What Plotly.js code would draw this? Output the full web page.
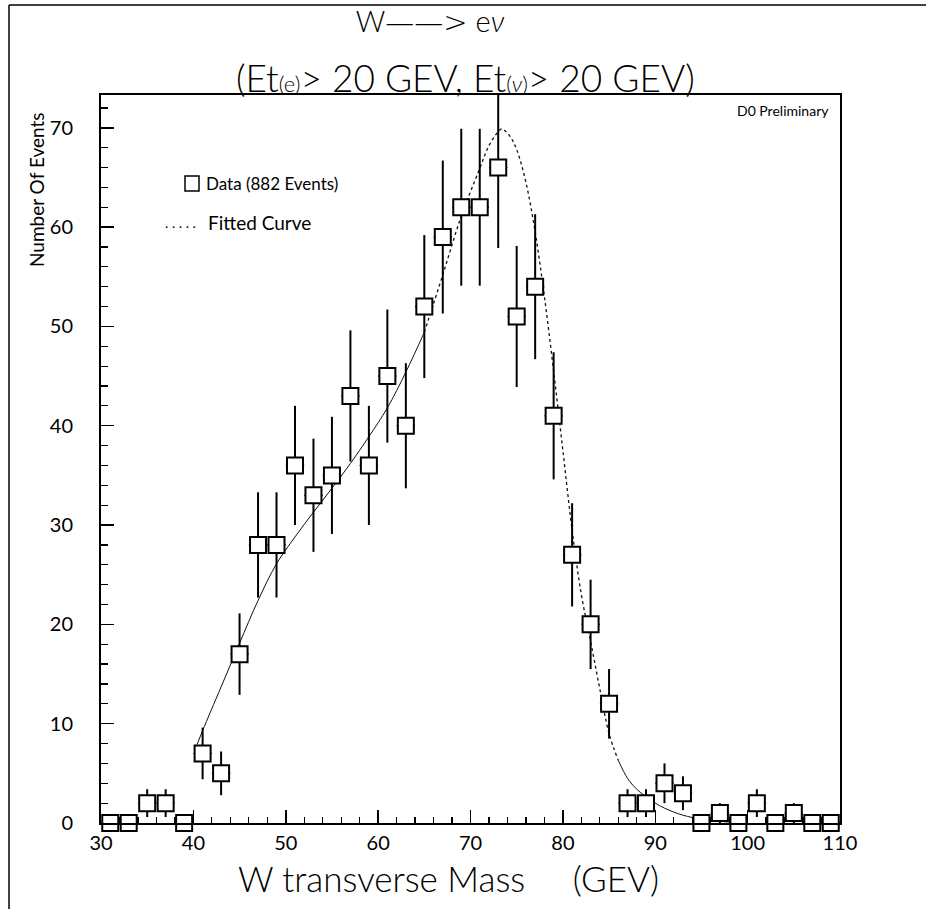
<!DOCTYPE html>
<html>
<head>
<meta charset="utf-8">
<script src="https://cdn.plot.ly/plotly-3.0.1.min.js"></script>
<style>
  html, body { margin: 0; padding: 0; background: #fff; }
  #chart { width: 926px; height: 909px; }
</style>
</head>
<body>
<div id="chart"></div>
<script>
// Bin centres (GeV) and number of events per 2 GeV bin
const binCenters = [31, 33, 35, 37, 39, 41, 43, 45, 47, 49,
                    51, 53, 55, 57, 59, 61, 63, 65, 67, 69,
                    71, 73, 75, 77, 79, 81, 83, 85, 87, 89,
                    91, 93, 95, 97, 99, 101, 103, 105, 107, 109];
const events = [0, 0, 2, 2, 0, 7, 5, 17, 28, 28,
                36, 33, 35, 43, 36, 45, 40, 52, 59, 62,
                62, 66, 51, 54, 41, 27, 20, 12, 2, 2,
                4, 3, 0, 1, 0, 2, 0, 1, 0, 0];
// Statistical error bars
const eventErrors = [0, 0, 1.4, 1.4, 0, 2.6, 2.2, 4.1, 5.3, 5.3,
                     6.0, 5.7, 5.9, 6.6, 6.0, 6.7, 6.3, 7.2, 7.7, 7.9,
                     7.9, 8.1, 7.1, 7.3, 6.4, 5.2, 4.5, 3.5, 1.4, 1.4,
                     2.0, 1.7, 0, 1.0, 0, 1.4, 0, 1.0, 0, 0];
const binHalfWidth = [1, 1, 1, 1, 1, 1, 1, 1, 1, 1,
                      1, 1, 1, 1, 1, 1, 1, 1, 1, 1,
                      1, 1, 1, 1, 1, 1, 1, 1, 1, 1,
                      1, 1, 1, 1, 1, 1, 1, 1, 1, 1];

// Fitted curve
const fitX = [40.4, 41, 43, 45, 47, 49, 51, 53, 55, 57, 59, 61, 63,
              65, 67, 69, 71, 72, 73, 73.4, 74.3, 75, 76, 77, 78, 79, 80, 81, 82, 83, 84, 85, 86,
              87, 88, 90, 92, 94, 96, 98, 100];
const fitY = [7.9, 9.3, 13.7, 18.1, 22.4, 26.1, 28.8, 31.3, 33.7, 36.2, 38.9, 41.8, 45.4,
              49.4, 55.2, 61.1, 65.9, 68.2, 69.6, 69.9, 69.1, 67.8, 64.5, 59.5, 53.0, 45.5, 37.5, 29.5, 23.0, 18.3, 13.5, 9.0, 6.3,
              4.5, 3.4, 2.0, 1.1, 0.55, 0.25, 0.1, 0.03];

// tick labels
const xTickVals = [30, 40, 50, 60, 70, 80, 90, 100, 110];
const yTickVals = [0, 10, 20, 30, 40, 50, 60, 70];

const FONT = "Lato, DejaVu Sans, sans-serif";

// split the fitted curve into solid / dotted parts as drawn
const i65 = fitX.indexOf(65), i86 = fitX.indexOf(86);
const curveSolidA = { x: fitX.slice(0, i65 + 1), y: fitY.slice(0, i65 + 1) };
const curveDot = { x: fitX.slice(i65, i86 + 1), y: fitY.slice(i65, i86 + 1) };
const curveSolidB = { x: fitX.slice(i86), y: fitY.slice(i86) };

const lineStyle = { color: '#111', width: 1, shape: 'spline' };

const traces = [
  { type: 'scatter', mode: 'lines', x: curveSolidA.x, y: curveSolidA.y,
    line: lineStyle, hoverinfo: 'skip', showlegend: false },
  { type: 'scatter', mode: 'lines', x: curveDot.x, y: curveDot.y,
    line: Object.assign({}, lineStyle, { dash: 'dot', width: 1.3 }), hoverinfo: 'skip', showlegend: false },
  { type: 'scatter', mode: 'lines', x: curveSolidB.x, y: curveSolidB.y,
    line: lineStyle, hoverinfo: 'skip', showlegend: false },
  { type: 'scatter', mode: 'markers', name: 'Data (882 Events)',
    x: binCenters, y: events, cliponaxis: false,
    error_y: { type: 'data', array: eventErrors, visible: true, color: '#000', thickness: 2, width: 0 },
    error_x: { type: 'data', array: binHalfWidth, visible: true, color: '#000', thickness: 1.2, width: 0 },
    marker: { symbol: 'square', size: 16, color: '#fff', line: { color: '#000', width: 2 } },
    showlegend: false }
];

// pixel helpers for the plot area (l=101, r=840, t=95, b=823)
const PL = 101, PR = 840, PT = 95, PB = 823;
const px = v => (v - PL) / (PR - PL);
const py = v => (PB - v) / (PB - PT);

const layout = {
  width: 926, height: 909,
  margin: { l: PL, r: 926 - PR, t: PT, b: 909 - PB, pad: 0 },
  paper_bgcolor: '#fff', plot_bgcolor: '#fff',
  font: { family: FONT, color: '#000' },
  showlegend: false,
  title: {
    text: 'W<span style="font-family:DejaVu Sans;font-weight:200">\u2014\u2014&gt;</span> e<i>\u03bd</i>',
    font: { family: FONT, size: 29, weight: 300, color: '#000' },
    xref: 'paper', x: px(430), xanchor: 'center',
    yref: 'container', y: 1 - 22 / 909, yanchor: 'middle'
  },
  xaxis: {
    range: [30, 110], tickvals: xTickVals, ticktext: xTickVals.map(String),
    ticks: 'inside', ticklen: 13, tickwidth: 1.5, tickcolor: '#000',
    minor: { dtick: 2, tick0: 30, ticks: 'inside', ticklen: 6, tickwidth: 1.2, tickcolor: '#000', showgrid: false },
    showline: true, linecolor: '#000', linewidth: 2, mirror: true,
    showgrid: false, zeroline: false,
    tickfont: { family: FONT, size: 20, color: '#000' },
    ticklabelstandoff: 1
  },
  yaxis: {
    range: [0, 73.3], tickvals: yTickVals, ticktext: yTickVals.map(String),
    ticks: 'inside', ticklen: 13, tickwidth: 1.5, tickcolor: '#000',
    minor: { dtick: 2, tick0: 0, ticks: 'inside', ticklen: 7, tickwidth: 1.2, tickcolor: '#000', showgrid: false },
    showline: true, linecolor: '#000', linewidth: 2, mirror: true,
    showgrid: false, zeroline: false,
    tickfont: { family: FONT, size: 20, color: '#000' },
    ticklabelstandoff: 22
  },
  annotations: [
    { text: '(Et<span style="font-size:22px">(e)</span>&gt; 20 GEV, Et<span style="font-size:22px">(<i>\u03bd</i>)</span>&gt; 20 GEV)',
      xref: 'paper', yref: 'paper', x: px(465), y: py(77), xanchor: 'center', yanchor: 'middle',
      showarrow: false, font: { family: FONT, size: 37, weight: 300, color: '#000' } },
    { text: 'D0 Preliminary', xref: 'paper', yref: 'paper', x: px(831), y: py(110),
      xanchor: 'right', yanchor: 'middle', showarrow: false,
      font: { family: FONT, size: 14, color: '#000' } },
    { text: 'Data (882 Events)', xref: 'paper', yref: 'paper', x: px(204), y: py(183),
      xanchor: 'left', yanchor: 'middle', showarrow: false,
      font: { family: FONT, size: 17, color: '#000' } },
    { text: '. . . . .', xref: 'paper', yref: 'paper', x: px(163), y: py(222),
      xanchor: 'left', yanchor: 'middle', showarrow: false,
      font: { family: FONT, size: 14, color: '#000' } },
    { text: 'Fitted Curve', xref: 'paper', yref: 'paper', x: px(206), y: py(222),
      xanchor: 'left', yanchor: 'middle', showarrow: false,
      font: { family: FONT, size: 19, color: '#000' } },
    { text: 'Number Of Events', xref: 'paper', yref: 'paper', x: px(36), y: py(190),
      xanchor: 'center', yanchor: 'middle', textangle: -90, showarrow: false,
      font: { family: FONT, size: 19, color: '#000' } },
    { text: 'W transverse Mass&nbsp;&nbsp;&nbsp;&nbsp;&nbsp;(GEV)', xref: 'paper', yref: 'paper', x: px(448), y: py(878),
      xanchor: 'center', yanchor: 'middle', showarrow: false,
      font: { family: FONT, size: 35, weight: 300, color: '#000' } }
  ],
  shapes: [
    // legend square
    { type: 'rect', xref: 'paper', yref: 'paper', x0: px(185), x1: px(199), y0: py(191), y1: py(176),
      line: { color: '#000', width: 1.5 }, fillcolor: 'rgba(0,0,0,0)' },
    // outer frame (left and top lines of the scanned page)
    { type: 'line', xref: 'paper', yref: 'paper', x0: px(9), x1: px(9), y0: py(909), y1: py(5),
      line: { color: '#000', width: 1.5 } },
    { type: 'line', xref: 'paper', yref: 'paper', x0: px(9), x1: px(926), y0: py(5), y1: py(5),
      line: { color: '#000', width: 1.5 } }
  ]
};

Plotly.newPlot('chart', traces, layout, { displayModeBar: false, staticPlot: true });
</script>
</body>
</html>
